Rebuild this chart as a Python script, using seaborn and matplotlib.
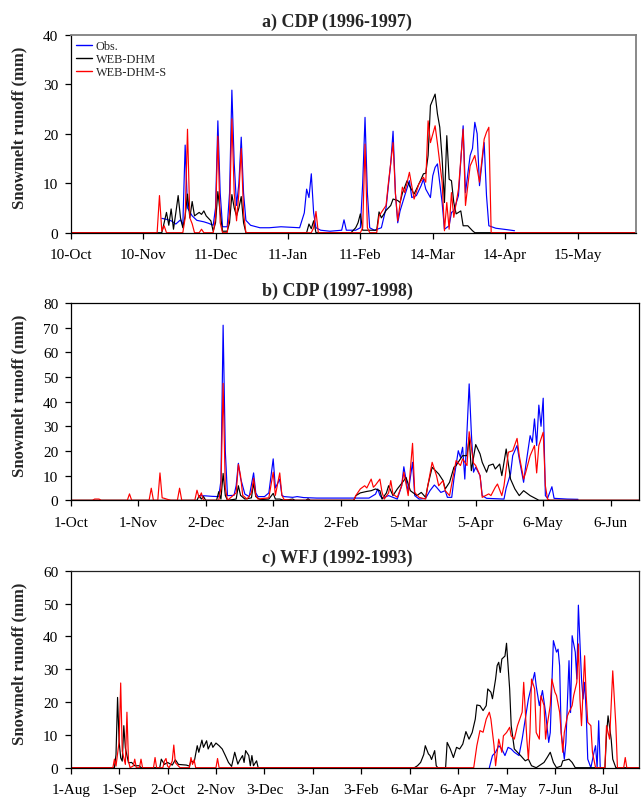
import numpy as np
import pandas as pd
import matplotlib
matplotlib.use("Agg")
import matplotlib.pyplot as plt
import seaborn as sns

# ---------------- data (day offset from first tick date, runoff mm) ----------------
series_names = ["Obs.", "WEB-DHM", "WEB-DHM-S"]
series_colors = ["#0000FF", "#000000", "#FF0000"]

# Panel a) CDP (1996-1997), day 0 = 10-Oct-1996
a_ticks = ["10-Oct", "10-Nov", "11-Dec", "11-Jan", "11-Feb", "14-Mar", "14-Apr", "15-May"]
a_obs_day = [39, 41, 43, 45, 47, 48, 49, 50, 52, 54, 57, 59, 61, 62, 63, 64, 65, 67, 68, 69, 70, 71, 72, 73, 74, 75,
             77, 81, 85, 90, 94, 98, 100, 101, 102, 103, 104, 105, 107, 111, 116, 117, 118, 122, 124, 125, 126, 127,
             128, 130, 133, 135, 137, 138, 139, 140, 141, 143, 145, 146, 148, 150, 151, 152, 154, 155, 156, 157, 159,
             160, 162, 163, 164, 166, 168, 169, 171, 172, 173, 174, 175, 177, 178, 179, 182, 187, 190]
a_obs = [2.9, 2.7, 2.4, 1.75, 2.6, 1.5, 17.7, 5, 3.4, 2.5, 2.2, 1.9, 1.5, 5, 22.6, 8, 1.2, 1.2, 8, 28.8, 14, 5.5, 10,
         19.3, 8, 2.5, 1.5, 1.0, 1.0, 1.2, 1.1, 1.0, 4, 8.8, 7.1, 11.9, 4, 1, 0.5, 0.3, 0.5, 2.6, 0.5, 0.5, 1, 10,
         23.3, 8, 1, 0.5, 1, 5, 14, 20.5, 8, 2, 4.4, 7.5, 10.5, 7.1, 7.5, 9.5, 10.8, 8.8, 7.1, 11.5, 13.2, 13.9,
         6.1, 0.7, 1.4, 4.1, 4.4, 7.5, 21.6, 8.1, 15.6, 17, 22.3, 20, 9.5, 18.2, 7.5, 1.4, 0.9, 0.6, 0.4]
a_dhm_day = [0, 39, 40, 41, 42, 43, 44, 45, 46, 47, 48, 49, 50, 51, 52, 53, 55, 56, 57, 58, 60, 61, 62, 63, 64, 65,
             67, 68, 69, 70, 71, 72, 73, 74, 75, 101, 102, 103, 104, 105, 120, 122, 123, 124, 125, 131, 132, 133,
             134, 135, 137, 138, 140, 141, 142, 144, 145, 147, 150, 151, 152, 153, 154, 156, 157, 158, 159, 160,
             161, 162, 163, 164, 165, 167, 168, 170, 172, 173, 242]
a_dhm = [0, 0, 2, 4.1, 1.5, 4.8, 0.7, 4, 7.5, 3, 1, 3.4, 7.8, 3, 6.3, 3.4, 4.1, 3.7, 4.4, 3.4, 2.4, 0.3, 2, 8.3, 4,
         0.3, 0.3, 2, 7.7, 5, 3.4, 5, 7.3, 2, 0, 0, 1.75, 0.8, 2.4, 0, 0, 1, 2, 3.8, 0.5, 0.5, 4.2, 3, 3.7, 4.5,
         5.5, 6.8, 6.5, 6.1, 8, 10.5, 9.5, 7.8, 10.8, 11.9, 12, 15.6, 25.7, 28, 24, 21.3, 15, 6.1, 19.6, 10.8,
         10.5, 6.1, 3.8, 4.4, 1.4, 1.4, 0.4, 0, 0]
a_dhms_day = [0, 37, 38, 39, 40, 41, 48, 49, 50, 51, 52, 53, 55, 56, 57, 61, 62, 63, 64, 65, 67, 68, 69, 70, 71, 72,
              73, 74, 75, 103, 104, 105, 106, 124, 125, 126, 127, 128, 131, 132, 135, 136, 138, 139, 140, 142, 143,
              145, 147, 149, 151, 152, 153, 154, 156, 157, 159, 160, 161, 162, 163, 164, 166, 168, 169, 171, 173,
              175, 177, 178, 179, 180, 242]
a_dhms = [0, 0, 7.5, 0.3, 1.4, 0, 0, 3, 20.9, 3, 1.8, 0, 0, 0.7, 0, 0, 3, 19.5, 2, 0, 0, 4, 23, 8, 2.4, 8, 17, 4, 0,
          0, 1, 4.3, 0, 0, 1, 17.9, 1, 0, 0, 3.4, 5.5, 10, 18.2, 8, 2.4, 9.2, 8.1, 12.2, 6.8, 9.8, 11.2, 10.2,
          22.6, 18.2, 21.6, 18, 10.2, 0.4, 6.1, 0.7, 8.1, 3.1, 8.8, 20.9, 5.5, 13.5, 15.6, 10.2, 18.9, 20.3, 21.3,
          0, 0]

# Panel b) CDP (1997-1998), day 0 = 1-Oct-1997
b_ticks = ["1-Oct", "1-Nov", "2-Dec", "2-Jan", "2-Feb", "5-Mar", "5-Apr", "6-May", "6-Jun"]
b_obs_day = [59, 62, 65, 68, 69, 70, 71, 72, 75, 76, 77, 78, 80, 82, 84, 85, 86, 89, 91, 93, 94, 96, 97, 98, 102,
             104, 107, 113, 120, 128, 137, 140, 141, 142, 143, 146, 150, 152, 153, 155, 157, 158, 160, 163, 165,
             167, 168, 170, 172, 173, 175, 176, 178, 179, 180, 181, 183, 184, 185, 186, 188, 189, 191, 199, 200,
             202, 203, 205, 206, 208, 209, 211, 212, 213, 214, 215, 216, 217, 218, 219, 221, 222, 228, 233]
b_obs = [1.9, 1.8, 1.6, 1.5, 8, 71, 20, 1.9, 2, 6, 15, 9, 2.5, 1.5, 11.1, 3, 1.5, 1.5, 3, 16.8, 5, 8.6, 2, 1.5,
         1.2, 1.5, 1.1, 0.9, 0.9, 0.9, 0.9, 2.5, 4.6, 2, 0.8, 1.9, 0.5, 5.9, 13.6, 3.2, 15.4, 1.9, 0.5, 0.8,
         3.9, 6.2, 5.3, 3.2, 3.9, 1.2, 1.2, 8.6, 20.1, 17.4, 21.5, 8.6, 47.2, 27.4, 11.4, 13.4, 10, 1.9, 0.8,
         0.5, 5, 10.7, 18.1, 22.2, 16.8, 7.3, 14.1, 26.2, 23.5, 33, 22.2, 38.6, 30, 41.4, 1.9, 0.8, 5.5, 0.8,
         0.5, 0.4]
b_dhm_day = [0, 58, 59, 60, 61, 62, 67, 68, 69, 70, 71, 72, 76, 77, 78, 80, 83, 84, 85, 87, 91, 93, 94, 96, 98,
             102, 103, 108, 109, 110, 130, 131, 133, 136, 138, 140, 142, 143, 145, 146, 148, 150, 153, 154, 156,
             159, 161, 163, 164, 166, 169, 171, 172, 174, 176, 177, 179, 180, 182, 183, 184, 186, 188, 189, 191,
             192, 194, 195, 197, 198, 200, 202, 204, 206, 208, 211, 214, 215, 261]
b_dhm = [0, 0, 1.9, 0.5, 1.5, 0, 0, 3.5, 0.5, 10.9, 2, 0, 0.5, 5.9, 2, 0.5, 1, 6.9, 1.5, 0.3, 0.5, 2.8, 0.5, 0.5,
         0, 0.5, 0, 0, 0.6, 0, 0, 1.9, 3, 3.6, 3.9, 4.6, 3.9, 0.5, 3, 5.9, 1.9, 4.6, 8, 9.3, 3.9, 1.9, 3.2, 1.2,
         5.9, 13.4, 10.7, 8, 4.6, 7.3, 13.4, 14.1, 16.8, 18.1, 18.1, 25.5, 12, 22.6, 18.8, 15.4, 11.4, 14.1,
         14.7, 12.7, 14.7, 10, 20.8, 8.6, 4.6, 1.9, 3.9, 1.9, 0.5, 0, 0]
b_dhms_day = [0, 10, 11, 13, 14, 26, 27, 28, 36, 37, 38, 40, 41, 42, 43, 44, 46, 49, 50, 51, 57, 58, 59, 60, 61,
              68, 69, 70, 71, 72, 76, 77, 78, 79, 81, 83, 84, 85, 86, 91, 93, 94, 96, 97, 98, 102, 130, 131, 133,
              135, 136, 138, 139, 140, 142, 143, 144, 146, 147, 148, 150, 152, 153, 155, 157, 158, 160, 163, 164,
              166, 168, 169, 171, 172, 174, 176, 177, 179, 180, 182, 183, 185, 186, 188, 189, 192, 193, 195, 196,
              198, 199, 201, 203, 205, 206, 208, 209, 211, 213, 214, 215, 217, 218, 219, 220, 261]
b_dhms = [0, 0, 0.5, 0.5, 0, 0, 2.6, 0, 0, 4.9, 0, 0, 11.1, 1, 0.8, 0.5, 0, 0, 4.9, 0, 0, 4.1, 1, 3, 0, 0, 5,
          47.4, 5, 0, 3, 14.5, 10, 2, 0.5, 3, 8.9, 2, 0.5, 1, 11.4, 2, 11.1, 2, 0.3, 0, 0, 2, 4.6, 5.9, 5, 8.6,
          5.3, 6.2, 8.6, 3.2, 0.5, 3, 8, 2.5, 1.2, 5.9, 11.4, 1.9, 23.1, 3.2, 1.2, 0.5, 5.9, 15.4, 10, 5.9, 8,
          3.9, 1.9, 11.4, 16.1, 14.1, 16.8, 14.1, 27.8, 15.1, 14.1, 10, 1.2, 2.6, 1.9, 5.3, 6.6, 1.9, 5.9,
          19.5, 20.1, 25.1, 18.1, 8.6, 11.4, 18.1, 22.2, 11.1, 22.2, 27.6, 5.9, 0.5, 0, 0]

# Panel c) WFJ (1992-1993), day 0 = 1-Aug-1992
c_ticks = ["1-Aug", "1-Sep", "2-Oct", "2-Nov", "3-Dec", "3-Jan", "3-Feb", "6-Mar", "6-Apr", "7-May", "7-Jun",
           "8-Jul"]
c_obs_day = [268, 270, 272, 274, 276, 278, 280, 282, 284, 287, 289, 291, 293, 295, 297, 298, 300, 302, 304, 306,
             307, 308, 309, 311, 312, 313, 314, 316, 317, 319, 320, 321, 323, 324, 325, 327, 328, 329, 330, 331,
             333, 335, 336, 337, 338, 339]
c_obs = [0, 3.7, 4.7, 6.7, 5.7, 3.7, 6.2, 5.7, 4.7, 3.7, 8.7, 14.8, 20.9, 24.9, 29, 24.9, 18.9, 23.5, 16.8, 7.7,
         10.7, 25, 38.7, 35.2, 36.1, 31, 10.7, 2.6, 7.7, 32.6, 16.8, 40.2, 35.2, 27, 49.5, 27, 20.9, 26, 16.9,
         2.6, 0, 4.7, 6.7, 0, 14.3, 0]
c_dhm_day = [0, 28, 29, 30, 31, 32, 33, 34, 35, 37, 39, 41, 44, 45, 57, 58, 60, 62, 65, 67, 69, 74, 76, 77, 79,
             81, 82, 84, 85, 87, 88, 90, 91, 93, 95, 97, 99, 101, 103, 105, 107, 108, 110, 111, 112, 114, 115,
             116, 117, 119, 120, 220, 222, 224, 226, 227, 229, 230, 231, 233, 234, 235, 240, 241, 243, 245, 247,
             249, 251, 253, 255, 257, 259, 260, 262, 264, 266, 267, 269, 270, 272, 273, 274, 275, 276, 278, 279,
             281, 282, 284, 288, 291, 293, 295, 298, 303, 305, 307, 309, 311, 314, 315, 319, 321, 323, 342, 343,
             344, 346, 347, 349, 364]
c_dhm = [0, 0, 4, 21.4, 8, 3, 2, 12.8, 6, 1.5, 1.6, 0.6, 0.6, 0, 0, 2.6, 1, 1.6, 0.8, 2.4, 1, 0.8, 0.5, 2.1, 1.6,
         6.7, 4.7, 8.4, 6.2, 8.2, 5.7, 7.7, 6.2, 7.5, 6.7, 5.7, 3.7, 1.6, 0.4, 4.7, 1.1, 2.1, 3.7, 1.6, 5.2, 3.7,
         0.6, 3.7, 0.6, 2.1, 0, 0, 0.6, 1.6, 4, 6.7, 4.2, 3.7, 2.5, 5.2, 0.6, 0, 0, 7.7, 5.7, 3.1, 6.2, 5.7, 7.2,
         11, 8.7, 10.7, 14.8, 19.1, 18.9, 17.4, 18.9, 24, 23, 21, 27, 31.1, 32.1, 29, 33.1, 34, 37.9, 24, 12.8,
         5.7, 3.7, 2.1, 2.6, 0.6, 0, 1.6, 3.1, 4.7, 1.6, 0, 0.5, 2.1, 2.6, 1.6, 0, 0, 10, 15.8, 8.7, 2.6, 0, 0]
c_dhms_day = [0, 27, 28, 29, 31, 32, 33, 35, 36, 37, 38, 40, 41, 42, 44, 45, 46, 53, 54, 55, 59, 60, 61, 62, 63,
              65, 66, 67, 69, 70, 76, 77, 78, 79, 80, 93, 94, 95, 258, 260, 262, 264, 266, 268, 269, 271, 272, 274,
              276, 277, 279, 281, 282, 284, 286, 289, 290, 292, 293, 294, 295, 297, 298, 300, 301, 303, 304, 305,
              307, 308, 310, 311, 313, 315, 316, 318, 319, 321, 322, 324, 325, 326, 327, 329, 330, 331, 333, 334,
              336, 342, 343, 345, 347, 349, 350, 354, 355, 356, 364]
c_dhms = [0, 0, 2.6, 0.5, 8, 25.8, 5, 1, 16.9, 2, 0, 0.5, 2.6, 0, 0, 2.6, 0, 0, 3.1, 0, 0, 2, 2.8, 0.5, 0, 2, 6.9,
          1.5, 0.5, 0, 0, 3.1, 1, 2.4, 0, 0, 2.8, 0, 0, 6.7, 11.3, 10.8, 14.8, 16.9, 14.8, 6.7, 0.6, 8.7, 4.7, 9.7,
          10.7, 12.3, 9.7, 8.7, 12.8, 16.9, 26, 8.7, 2.6, 10.7, 27, 24, 10.7, 8.7, 21.9, 19, 8.7, 12.8, 19, 27,
          23, 22, 16.9, 4.7, 10.7, 15.8, 16.9, 18.9, 22, 26, 37.7, 20.9, 12.8, 34.1, 22, 13.8, 12.8, 4.7, 0, 0,
          12.8, 8.7, 29.5, 12.8, 0, 0, 3.1, 0, 0]

# ---------------- figure ----------------
sns.set_style("ticks")
plt.rcParams["font.family"] = ["Liberation Serif", "DejaVu Serif"]
plt.rcParams["axes.linewidth"] = 0.9

fig = plt.figure(figsize=(6.43, 8.04), dpi=100)

panels = [
    dict(title="a) CDP (1996-1997)", ticks=a_ticks, xmax=242, ymax=40,
         data=[(a_obs_day, a_obs), (a_dhm_day, a_dhm), (a_dhms_day, a_dhms)],
         rect=[70.7, 35.7, 636.0, 233.7], legend=True, frame="#808080"),
    dict(title="b) CDP (1997-1998)", ticks=b_ticks, xmax=261, ymax=80,
         data=[(b_obs_day, b_obs), (b_dhm_day, b_dhm), (b_dhms_day, b_dhms)],
         rect=[70.7, 304.0, 639.0, 501.3], legend=False, frame="#000000"),
    dict(title="c) WFJ (1992-1993)", ticks=c_ticks, xmax=364, ymax=60,
         data=[(c_obs_day, c_obs), (c_dhm_day, c_dhm), (c_dhms_day, c_dhms)],
         rect=[70.7, 571.7, 639.3, 768.7], legend=False, frame="#222222"),
]

W, H = 643.0, 804.0
title_center_px = 337.0
ylabel_right_px = 27.0
for p in panels:
    x0, y0, x1, y1 = p["rect"]
    ax = fig.add_axes([x0 / W, 1 - y1 / H, (x1 - x0) / W, (y1 - y0) / H])
    frames = []
    for name, (d, v) in zip(series_names, p["data"]):
        frames.append(pd.DataFrame({"day": d, "runoff": v, "series": name}))
    df = pd.concat(frames, ignore_index=True)
    sns.lineplot(data=df, x="day", y="runoff", hue="series", hue_order=series_names,
                 palette=series_colors, estimator=None, sort=False, linewidth=0.85,
                 legend=p["legend"], ax=ax)
    ax.set_xlim(0, p["xmax"])
    ax.set_ylim(0, p["ymax"])
    ax.set_xticks(np.arange(len(p["ticks"])) * 31)
    ax.set_xticklabels(p["ticks"])
    ax.set_yticks(np.arange(0, p["ymax"] + 1, 10))
    ax.tick_params(axis="both", direction="out", length=4, width=0.9, labelsize=11, pad=5, colors="black")
    ax.tick_params(axis="x", pad=7)
    ax.set_xlabel("")
    ax.set_ylabel("Snowmelt runoff (mm)", fontsize=12, fontweight="bold")
    ax.yaxis.set_label_coords((ylabel_right_px - x0) / (x1 - x0), 0.533)
    ax.set_title(p["title"], fontsize=13, fontweight="bold", pad=6,
                 x=(title_center_px - x0) / (x1 - x0))
    for s in ["top", "right"]:
        ax.spines[s].set_visible(True)
        ax.spines[s].set_color(p["frame"])
        ax.spines[s].set_linewidth(1.3 if p["frame"] == "#808080" else 0.9)
    for s in ["left", "bottom"]:
        ax.spines[s].set_color("black")
    if p["legend"]:
        leg = ax.legend(loc="upper left", frameon=False, fontsize=8.8, handlelength=1.3,
                        handletextpad=0.3, labelspacing=0.08, borderaxespad=0.25, borderpad=0.2)
        for line in leg.get_lines():
            line.set_linewidth(1.0)

fig.savefig("out.png", dpi=100)
